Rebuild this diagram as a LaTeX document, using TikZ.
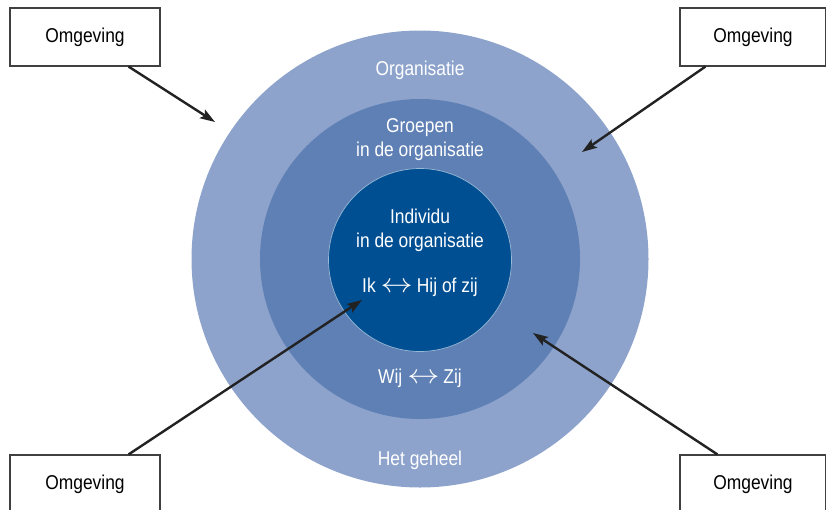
\documentclass[tikz,border=0pt]{standalone}
\usepackage{fontspec}
\setmainfont{Liberation Sans}[FakeStretch=0.87]
\usetikzlibrary{arrows.meta}

\definecolor{orgblue}{HTML}{8DA3CC}
\definecolor{groupblue}{HTML}{5F80B5}
\definecolor{indblue}{HTML}{004F93}
\definecolor{arrowgray}{HTML}{222222}

\newcommand{\twoway}{\hspace{5pt}\scalebox{1.55}[1.3]{$\leftrightarrow$}\hspace{4pt}}

\begin{document}
\begin{tikzpicture}[x=1pt, y=-1pt,
  every node/.style={font=\fontsize{20}{24}\selectfont},
  ring/.style={circle, inner sep=0pt},
  label/.style={text=white, align=center},
  envbox/.style={draw=black!75, line width=1.2pt, fill=white, minimum width=150pt, minimum height=58pt},
  influence/.style={-{Stealth[length=15pt, width=10pt, inset=3pt]}, line width=2.4pt, draw=arrowgray}]
\useasboundingbox (0,0) rectangle (826,509);
\clip (0,0) rectangle (826,509);

% circles
\node[ring, fill=orgblue, minimum size=457pt] (org) at (420,259) {};
\node[ring, fill=groupblue, minimum size=320pt] (grp) at (420,259) {};
\node[ring, fill=indblue, draw=white!60!indblue, line width=0.7pt, minimum size=183pt] (ind) at (420,260) {};

% texts
\node[label] (orgtxt) at (420,70) {Organisatie};
\node[label] (grptxt) at (420,140) {Groepen\\in de organisatie};
\node[label] (indtxt) at (420,230) {Individu\\in de organisatie};
\node[label] (iktxt) at (420,287) {Ik\twoway Hij of zij};
\node[label] (wijtxt) at (420,378) {Wij\twoway Zij};
\node[label] (heeltxt) at (420,460) {Het geheel};

% surroundings
\node[envbox] (tl) at (85,37) {Omgeving};
\node[envbox, minimum width=146pt] (tr) at (753,37) {Omgeving};
\node[envbox] (bl) at (85,484) {Omgeving};
\node[envbox, minimum width=146pt] (br) at (753,484) {Omgeving};

\coordinate (tlend) at (215,122);
\coordinate (trend) at (582,152);
\coordinate (blend) at (362,300);
\coordinate (brend) at (533,333);

\draw[influence] ([xshift=-32pt]tl.south east) -- (tlend);
\draw[influence] ([xshift=26pt]tr.south west) -- (trend);
\draw[influence] ([xshift=-32pt]bl.north east) -- (blend);
\draw[influence] ([xshift=38pt]br.north west) -- (brend);
\end{tikzpicture}
\end{document}
